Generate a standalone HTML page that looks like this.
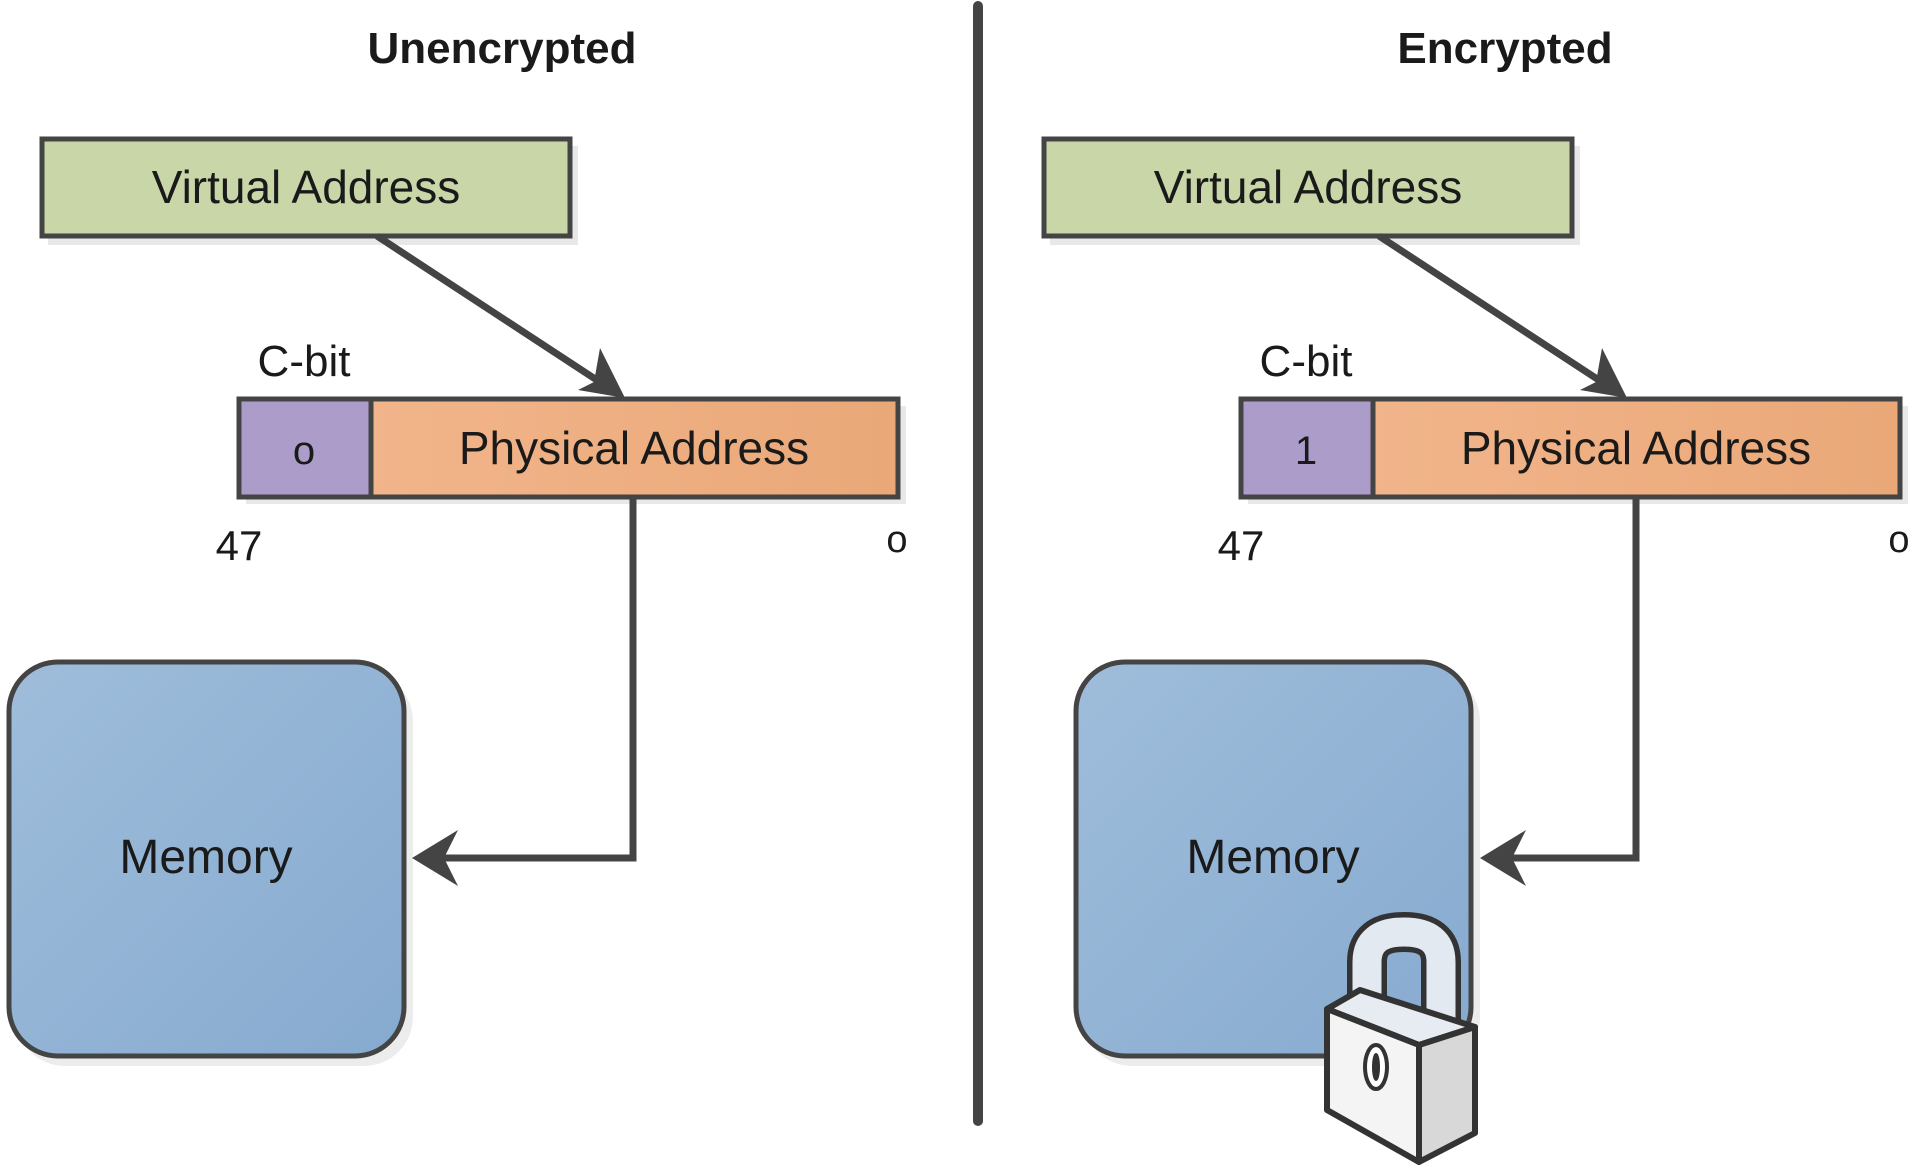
<!DOCTYPE html>
<html><head><meta charset="utf-8"><style>
html,body{margin:0;padding:0;background:#fff;}
svg{display:block;}
text{font-family:"Liberation Sans",sans-serif;fill:#1a1a1a;}
</style></head><body>
<svg width="1920" height="1167" viewBox="0 0 1920 1167" xmlns="http://www.w3.org/2000/svg">
<defs>
<linearGradient id="mem" x1="0" y1="0" x2="1" y2="1"><stop offset="0" stop-color="#9fbddb"/><stop offset="1" stop-color="#86aacf"/></linearGradient>
<linearGradient id="phys" x1="0" y1="0" x2="1" y2="0"><stop offset="0" stop-color="#f3b88f"/><stop offset="1" stop-color="#eaa878"/></linearGradient>
</defs>
<text x="502" y="63" font-size="44" font-weight="bold" text-anchor="middle">Unencrypted</text>
<text x="1505" y="63" font-size="44" font-weight="bold" text-anchor="middle">Encrypted</text>
<line x1="978" y1="6" x2="978" y2="1121" stroke="#444" stroke-width="10" stroke-linecap="round"/>

<g id="L">
<rect x="48" y="146" width="530" height="99" fill="#e8e8e8"/>
<rect x="42" y="139" width="528" height="97" fill="#c9d7a8" stroke="#444" stroke-width="5"/>
<text x="306" y="203" font-size="46" text-anchor="middle">Virtual Address</text>
<text x="304" y="376" font-size="44" text-anchor="middle">C-bit</text>
<rect x="246" y="406" width="660" height="98" fill="#e8e8e8"/>
<rect x="239" y="399" width="659" height="98" fill="url(#phys)" stroke="#444" stroke-width="5"/>
<rect x="239" y="399" width="132" height="98" fill="#ab9cc9" stroke="#444" stroke-width="5"/>
<text x="634" y="464" font-size="46" text-anchor="middle">Physical Address</text>
<text x="239" y="560" font-size="42" text-anchor="middle">47</text>
<text x="897" y="552" font-size="38" text-anchor="middle">o</text>
<line x1="377" y1="236" x2="612" y2="390" stroke="#444" stroke-width="7"/>
<path d="M625 398 L578 390 L594 382 L600 348 Z" fill="#444"/>
</g>
<g id="M">
<rect x="16" y="672" width="397" height="394" rx="49" fill="#ececec"/>
<rect x="9" y="662" width="395" height="394" rx="49" fill="url(#mem)" stroke="#444" stroke-width="5"/>
<text x="206" y="873" font-size="48" text-anchor="middle">Memory</text>
</g>
<polyline points="633,497 633,858 428,858" fill="none" stroke="#444" stroke-width="7"/>
<path d="M412 858 L458 830 L444 858 L458 886 Z" fill="#444"/>
<text x="304" y="464" font-size="40" text-anchor="middle">o</text>
<use href="#L" x="1002" y="0"/>
<use href="#M" x="1067" y="0"/>
<text x="1306" y="464" font-size="40" text-anchor="middle">1</text>
<polyline points="1636,497 1636,858 1496,858" fill="none" stroke="#444" stroke-width="7"/>
<path d="M1480 858 L1526 830 L1512 858 L1526 886 Z" fill="#444"/>

<!-- lock -->
<path d="M1367 1025 L1367 962 Q1367 932 1404 932 Q1441 932 1441 962 L1441 1040" fill="none" stroke="#333" stroke-width="40" stroke-linecap="round"/>
<path d="M1367 1025 L1367 962 Q1367 932 1404 932 Q1441 932 1441 962 L1441 1040" fill="none" stroke="#e3e9f0" stroke-width="29" stroke-linecap="round"/>
<g stroke="#333" stroke-width="6" stroke-linejoin="round">
<path d="M1327 1009 L1360 990 L1475 1027 L1419 1045 Z" fill="#e6ecf2"/>
<path d="M1327 1009 L1419 1045 L1419 1162 L1327 1110 Z" fill="#f4f4f4"/>
<path d="M1419 1045 L1475 1027 L1475 1133 L1419 1162 Z" fill="#d8d8d8"/>
<ellipse cx="1376" cy="1067" rx="11" ry="22" fill="#fff" stroke-width="4"/>
<ellipse cx="1376" cy="1067" rx="3" ry="13" fill="#333" stroke-width="2"/>
</g>
</svg>
</body></html>
